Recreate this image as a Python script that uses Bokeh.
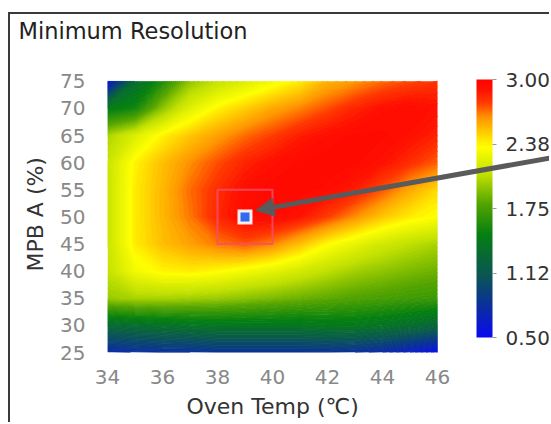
import numpy as np
from bokeh.plotting import figure
from bokeh.models import (LinearColorMapper, ColorBar, FixedTicker, Arrow,
                          NormalHead, Range1d, Title)
from bokeh.embed import file_html
from bokeh.resources import INLINE

# ---------------- data ----------------
x_temps = [34, 35, 36, 37, 38, 39, 40, 41, 42, 43, 44, 45, 46]
y_mpb = [25, 30, 35, 40, 45, 50, 55, 60, 65, 70, 75]
# rows follow y_mpb (bottom to top), columns follow x_temps
res_y25 = [0.75, 0.78, 0.80, 0.80, 0.82, 0.82, 0.82, 0.82, 0.82, 0.80, 0.75, 0.65, 0.52]
res_y30 = [1.28, 1.32, 1.35, 1.38, 1.40, 1.40, 1.40, 1.40, 1.42, 1.42, 1.38, 1.32, 1.25]
res_y35 = [1.98, 2.02, 2.02, 2.00, 1.98, 1.94, 1.90, 1.86, 1.82, 1.78, 1.75, 1.72, 1.70]
res_y40 = [2.10, 2.30, 2.38, 2.40, 2.36, 2.30, 2.24, 2.16, 2.08, 2.00, 1.95, 1.90, 1.86]
res_y45 = [2.12, 2.40, 2.52, 2.60, 2.68, 2.74, 2.66, 2.52, 2.36, 2.25, 2.15, 2.08, 2.02]
res_y50 = [2.12, 2.40, 2.54, 2.68, 2.84, 2.95, 2.96, 2.90, 2.78, 2.64, 2.50, 2.40, 2.34]
res_y55 = [2.12, 2.40, 2.54, 2.70, 2.82, 2.93, 2.97, 2.97, 2.94, 2.87, 2.74, 2.58, 2.45]
res_y60 = [2.12, 2.38, 2.52, 2.64, 2.75, 2.85, 2.92, 2.96, 2.97, 2.96, 2.91, 2.82, 2.72]
res_y65 = [2.02, 2.20, 2.38, 2.50, 2.60, 2.70, 2.78, 2.87, 2.93, 2.96, 2.96, 2.92, 2.85]
res_y70 = [1.45, 1.55, 1.95, 2.22, 2.38, 2.48, 2.58, 2.66, 2.75, 2.85, 2.92, 2.95, 2.92]
res_y75 = [0.55, 1.30, 1.60, 1.95, 2.10, 2.20, 2.30, 2.40, 2.55, 2.62, 2.70, 2.76, 2.80]

x_ticks = [34, 36, 38, 40, 42, 44, 46]
y_ticks = [25, 30, 35, 40, 45, 50, 55, 60, 65, 70, 75]
cbar_ticks = [0.5, 1.125, 1.75, 2.375, 3.0]
cbar_labels = ["0.50", "1.12", "1.75", "2.38", "3.00"]
cbar_low, cbar_high = 0.5, 3.0

optimum_x, optimum_y = 39, 50          # chosen condition
box_w, box_h = 2, 10                   # highlight box size (data units)

# ---------------- colour palette ----------------
anchor_vals = [0.5, 0.85, 1.12, 1.5, 1.8, 2.08, 2.35, 2.63, 2.78, 2.9, 3.0]
anchor_cols = ["#0a0af0", "#0a3590", "#0a5850", "#058010", "#55a500",
               "#c0e000", "#ffff00", "#ff9500", "#ff3a00", "#ff1200", "#ff0500"]


def hex2rgb(h):
    return [int(h[i:i + 2], 16) for i in (1, 3, 5)]


rgb = np.array([hex2rgb(c) for c in anchor_cols], dtype=float)


def colour_of(v):
    v = min(max(v, cbar_low), cbar_high)
    r = np.interp(v, anchor_vals, rgb[:, 0])
    g = np.interp(v, anchor_vals, rgb[:, 1])
    b = np.interp(v, anchor_vals, rgb[:, 2])
    return "#%02x%02x%02x" % (int(round(r)), int(round(g)), int(round(b)))


palette = [colour_of(v) for v in np.linspace(cbar_low, cbar_high, 256)]
mapper = LinearColorMapper(palette=palette, low=cbar_low, high=cbar_high)

grid = np.array([res_y25, res_y30, res_y35, res_y40, res_y45, res_y50,
                 res_y55, res_y60, res_y65, res_y70, res_y75])

levels = list(np.round(np.arange(0.45, 3.0501, 0.025), 4))
band_colours = [colour_of((levels[i] + levels[i + 1]) / 2) for i in range(len(levels) - 1)]
level_colours = [colour_of(lv) for lv in levels]

FONT = "DejaVu Sans"

# The frame reaches the right edge so the arrow can run over the colour bar.
p = figure(width=541, height=410, x_range=Range1d(34, 50.145), y_range=Range1d(25, 81.78),
           output_backend="svg", toolbar_location=None,
           min_border_left=97, min_border_right=0, min_border_top=29,
           min_border_bottom=71)
p.styles = {"margin-left": "8px", "margin-top": "12px",
            "border-left": "2px solid #3a3a3a", "border-top": "2px solid #3a3a3a"}

p.contour(x=x_temps, y=y_mpb, z=grid, levels=levels,
          fill_color=band_colours, line_color=level_colours, line_width=1.2)

# highlight box and chosen point
p.rect(x=[optimum_x], y=[optimum_y], width=box_w, height=box_h, fill_color=None,
       line_color="#f0506e", line_width=2, line_alpha=0.8)
p.scatter(x=[optimum_x], y=[optimum_y], marker="square", size=15,
          fill_color="white", line_color=None, fill_alpha=0.92)
p.scatter(x=[optimum_x], y=[optimum_y], marker="square", size=9,
          fill_color="#2f6bef", line_color=None)

# title
p.title.text = "Minimum Resolution"
p.title.text_font = FONT
p.title.text_font_size = "22.5px"
p.title.text_font_style = "normal"
p.title.text_color = "#222222"
p.title.offset = -89
p.title.standoff = 2

# axes
for ax in (p.xaxis[0], p.yaxis[0]):
    ax.axis_line_color = None
    ax.major_tick_line_color = None
    ax.minor_tick_line_color = None
    ax.major_label_text_font = FONT
    ax.major_label_text_font_size = "20px"
    ax.major_label_text_color = "#888888"

p.xaxis.ticker = FixedTicker(ticks=x_ticks)
p.yaxis.ticker = FixedTicker(ticks=y_ticks)
p.xaxis.major_label_standoff = 11
p.yaxis.major_label_standoff = 16

# axis titles (kept over the data area, not over the whole frame)
x_title = Title(text="Oven Temp (℃)", align="left", offset=79, standoff=11,
                text_font=FONT, text_font_size="22px", text_font_style="normal",
                text_color="#333333")
y_title = Title(text="MPB A (%)", align="left", offset=81, standoff=20,
                text_font=FONT, text_font_size="22px", text_font_style="normal",
                text_color="#333333")
p.add_layout(x_title, "below")
p.add_layout(y_title, "left")

p.grid.visible = False
p.outline_line_color = None
p.background_fill_color = "white"
p.border_fill_color = "white"

cb = ColorBar(color_mapper=mapper, ticker=FixedTicker(ticks=cbar_ticks),
              major_label_overrides={t: l for t, l in zip(cbar_ticks, cbar_labels)},
              width=16, height=258, location=(369, 15), margin=0, padding=0,
              bar_line_color=None, major_tick_in=0, major_tick_out=4,
              major_tick_line_color="#999999", label_standoff=9,
              major_label_text_font=FONT, major_label_text_font_size="20px",
              major_label_text_color="#333333", background_fill_color=None,
              border_line_color=None)
p.add_layout(cb)

arrow = Arrow(x_start=50.145, y_start=60.9, x_end=39.4, y_end=51.2,
              line_color="#5a5a5a", line_width=5,
              end=NormalHead(size=18, fill_color="#5a5a5a", line_color="#5a5a5a"))
p.add_layout(arrow)

open("out.html", "w").write(file_html(p, INLINE))
